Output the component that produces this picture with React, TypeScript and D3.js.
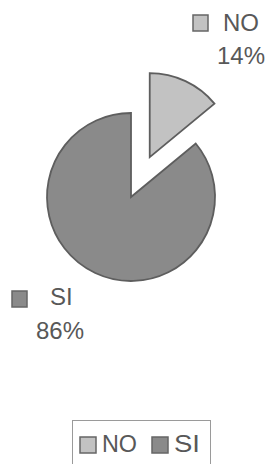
import React from 'react';
import * as d3 from 'd3';

const categories = ['NO', 'SI'];
const values = [14, 86];
const fills = ['#c2c2c2', '#8a8a8a'];

const W = 267;
const H = 464;
const cx = 131;
const cy = 197;
const radius = 84;
const explode = [44, 0];

const FONT = '"Liberation Sans", Arial, sans-serif';
const TEXT = '#585858';

export default function App() {
  const pie = d3
    .pie<number>()
    .sort(null)
    .startAngle(0)
    .endAngle(2 * Math.PI);
  const arcs = pie(values);
  const arc = d3.arc<d3.PieArcDatum<number>>().innerRadius(0).outerRadius(radius);
  const total = d3.sum(values);

  // data label spots (slice label, percent)
  const labels = [
    { sq: [193, 15], name: [223, 31], pct: [217, 64] },
    { sq: [12, 291], name: [50, 305], pct: [36, 339] },
  ];

  return (
    <div style={{ position: 'absolute', left: 0, top: 0 }}>
      <svg width={W} height={H} style={{ display: 'block', background: '#fff' }}>
        <g transform={`translate(${cx},${cy})`}>
          {arcs.map((a, i) => {
            const mid = (a.startAngle + a.endAngle) / 2;
            const dx = Math.sin(mid) * explode[i];
            const dy = -Math.cos(mid) * explode[i];
            return (
              <path
                key={categories[i]}
                d={arc(a) || ''}
                transform={`translate(${dx},${dy})`}
                fill={fills[i]}
                stroke="#5e5e5e"
                strokeWidth={1.8}
                strokeLinejoin="miter"
              />
            );
          })}
        </g>

        {labels.map((l, i) => (
          <g key={categories[i]} fontFamily={FONT} fontSize={24} fill={TEXT}>
            <rect
              x={l.sq[0]}
              y={l.sq[1]}
              width={15}
              height={16}
              fill={fills[i]}
              stroke="#666"
              strokeWidth={1.5}
            />
            <text x={l.name[0]} y={l.name[1]}>{categories[i]}</text>
            <text x={l.pct[0]} y={l.pct[1]}>
              {`${Math.round((values[i] / total) * 100)}%`}
            </text>
          </g>
        ))}

        <g fontFamily={FONT} fontSize={24} fill={TEXT}>
          <rect x={72.5} y={420.5} width={138} height={60} fill="none" stroke="#9a9a9a" strokeWidth={1} />
          {categories.map((c, i) => {
            const x0 = i === 0 ? 80 : 152;
            return (
              <g key={c}>
                <rect x={x0} y={437} width={16} height={16} fill={fills[i]} stroke="#666" strokeWidth={1.5} />
                <text x={x0 + 22} y={452} textLength={i === 0 ? 35 : 26} lengthAdjust="spacingAndGlyphs">{c}</text>
              </g>
            );
          })}
        </g>
      </svg>
    </div>
  );
}
